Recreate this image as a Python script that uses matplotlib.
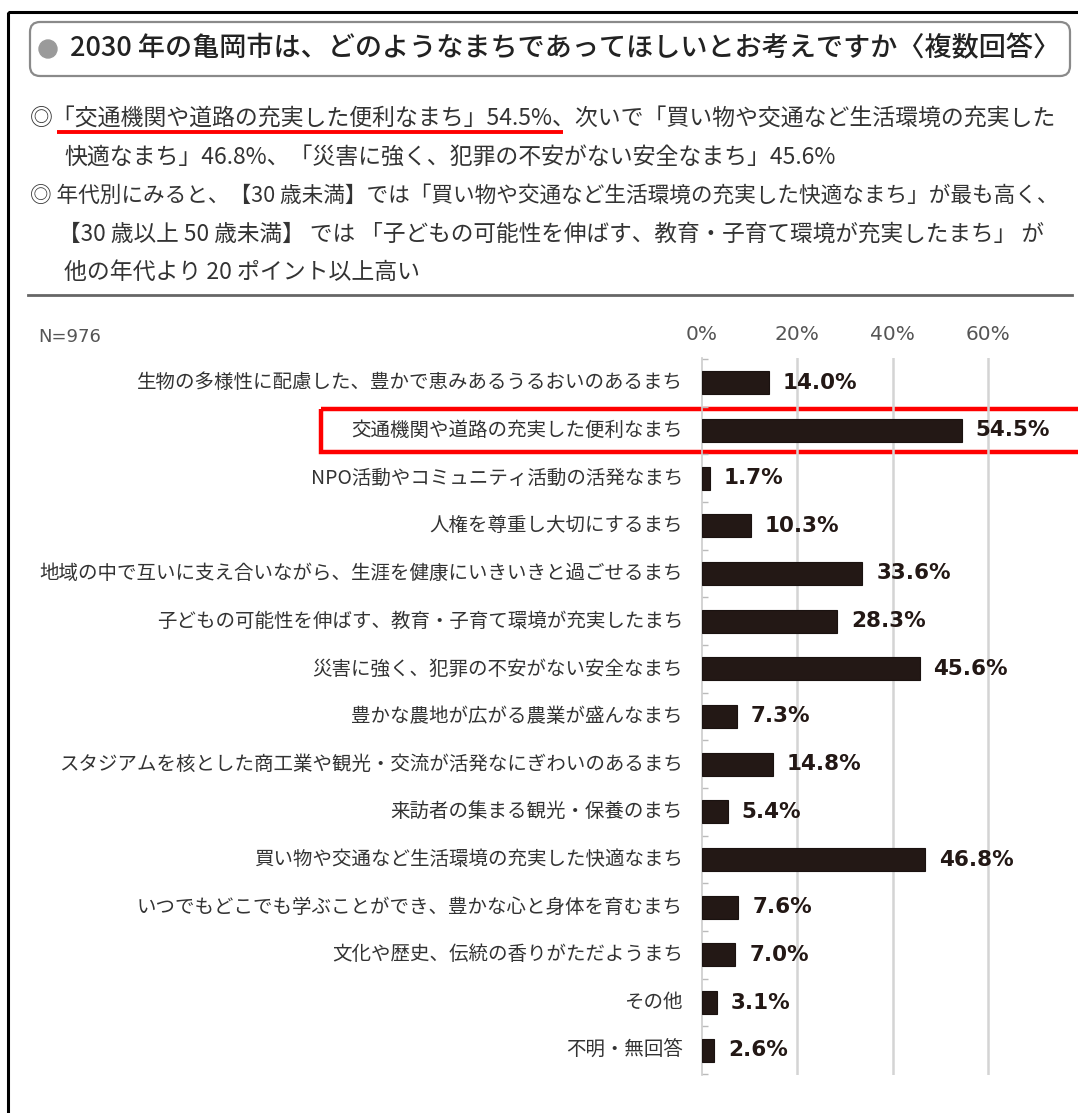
import matplotlib
matplotlib.use("Agg")
import matplotlib.pyplot as plt
from matplotlib.patches import FancyBboxPatch, Rectangle, Circle
from matplotlib.ticker import FixedLocator

plt.rcParams['font.family'] = ['Noto Sans CJK JP', 'DejaVu Sans']

# 回答項目と割合（%）
items = [
    "生物の多様性に配慮した、豊かで恵みあるうるおいのあるまち",
    "交通機関や道路の充実した便利なまち",
    "NPO活動やコミュニティ活動の活発なまち",
    "人権を尊重し大切にするまち",
    "地域の中で互いに支え合いながら、生涯を健康にいきいきと過ごせるまち",
    "子どもの可能性を伸ばす、教育・子育て環境が充実したまち",
    "災害に強く、犯罪の不安がない安全なまち",
    "豊かな農地が広がる農業が盛んなまち",
    "スタジアムを核とした商工業や観光・交流が活発なにぎわいのあるまち",
    "来訪者の集まる観光・保養のまち",
    "買い物や交通など生活環境の充実した快適なまち",
    "いつでもどこでも学ぶことができ、豊かな心と身体を育むまち",
    "文化や歴史、伝統の香りがただようまち",
    "その他",
    "不明・無回答",
]
shares = [14.0, 54.5, 1.7, 10.3, 33.6, 28.3, 45.6, 7.3, 14.8, 5.4, 46.8, 7.6, 7.0, 3.1, 2.6]
x_ticks = [0, 20, 40, 60]
x_tick_labels = ["0%", "20%", "40%", "60%"]

title = "2030 年の亀岡市は、どのようなまちであってほしいとお考えですか〈複数回答〉"
summary_lines = [
    (30, "◎「交通機関や道路の充実した便利なまち」54.5%、次いで「買い物や交通など生活環境の充実した"),
    (64, "快適なまち」46.8%、「災害に強く、犯罪の不安がない安全なまち」45.6%"),
    (30, "◎ 年代別にみると、【30 歳未満】では「買い物や交通など生活環境の充実した快適なまち」が最も高く、"),
    (58, "【30 歳以上 50 歳未満】 では 「子どもの可能性を伸ばす、教育・子育て環境が充実したまち」 が"),
    (64, "他の年代より 20 ポイント以上高い"),
]
line_size = [16.5, 16.5, 15.6, 16.3, 16.5]
line_y = [118, 157, 196, 234, 272]

W, H = 1078, 1113
fig = plt.figure(figsize=(W / 100, H / 100), dpi=100)

# 装飾用のピクセル座標レイヤー
deco = fig.add_axes([0, 0, 1, 1])
deco.set_xlim(0, W)
deco.set_ylim(H, 0)
deco.axis("off")

deco.add_patch(Rectangle((8, 12), W, H, fill=False, ec="black", lw=2.2))
deco.add_patch(FancyBboxPatch((30, 22), 1040, 54, boxstyle="round,pad=0,rounding_size=10",
                              fill=False, ec="#8a8a8a", lw=1.6))
deco.add_patch(Circle((48, 49), 9, color="#9a9a9a"))
deco.text(70, 49, title, fontsize=19.5, color="#222222", va="center", ha="left",
          fontweight="medium")

for (x0, line), y, fs in zip(summary_lines, line_y, line_size):
    deco.text(x0, y, line, fontsize=fs, color="#333333", va="center", ha="left")
deco.plot([57, 563], [132, 132], color="red", lw=2.8, solid_capstyle="butt")
deco.plot([28, 1072], [295, 295], color="#666666", lw=2)

deco.text(38, 337, "N=976", fontsize=13, color="#555555", va="center", ha="left",
          family="DejaVu Sans")

# 棒グラフ
x0_px, x_scale = 702, 4.77
ax = fig.add_axes([x0_px / W, 1 - 1075 / H, (W - x0_px) / W, (1075 - 358) / H])
ax.set_xlim(0, (W - x0_px) / x_scale)
ax.set_ylim(len(items) - 0.48, -0.52)

pos = list(range(len(items)))
ax.barh(pos, shares, height=0.48, color="#231815", edgecolor="#1a1210", lw=0.8, zorder=3)
for p, v in zip(pos, shares):
    ax.annotate(f"{v:.1f}%", (v, p), xytext=(10, 0), textcoords="offset points",
                va="center", ha="left", fontsize=15.5, fontweight="bold",
                color="#231815", family="DejaVu Sans")

ax.xaxis.set_major_locator(FixedLocator(x_ticks))
ax.set_xticklabels(x_tick_labels, fontsize=14.5, color="#555555", family="DejaVu Sans")
ax.xaxis.tick_top()
ax.tick_params(axis="x", length=0, pad=10)
for t in x_ticks[1:]:
    ax.axvline(t, color="#d4d4d4", lw=1.8, zorder=1)

ax.set_yticks([p + 0.5 for p in pos[:-1]] + [-0.5, len(items) - 0.5])
ax.set_yticklabels([])
ax.tick_params(axis="y", direction="in", length=4, color="#bbbbbb", width=1)

# 項目名は軸の左端から約19px離して右揃え
label_x = -19 / (W - x0_px)
for p, label in zip(pos, items):
    ax.text(label_x, p, label, transform=ax.get_yaxis_transform(), ha="right", va="center",
            fontsize=14, color="#333333")

for side in ["top", "right", "bottom"]:
    ax.spines[side].set_visible(False)
ax.spines["left"].set_color("#cccccc")
ax.spines["left"].set_linewidth(1.2)
ax.patch.set_alpha(0)

# 最も多かった項目を赤枠で強調
deco.add_patch(Rectangle((321, 409), 790, 43, fill=False, ec="red", lw=3.2, zorder=5))

fig.savefig("out.png", dpi=100)
